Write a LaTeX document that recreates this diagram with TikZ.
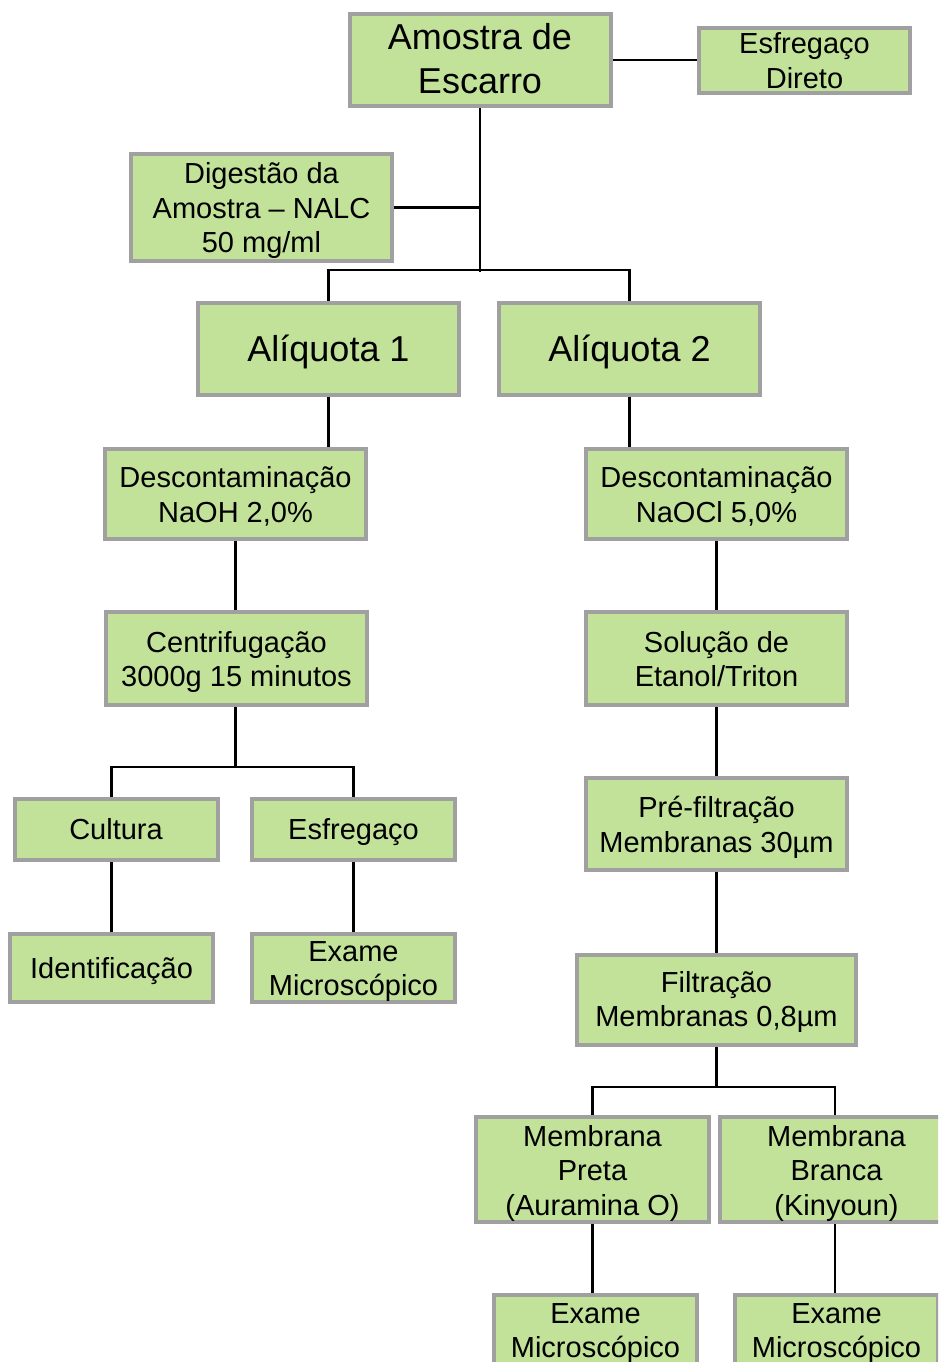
\documentclass[tikz,border=0pt]{standalone}
\usepackage{fontspec}
\setmainfont{Liberation Sans}
\definecolor{boxfill}{HTML}{C2E29A}
\definecolor{boxline}{HTML}{A0A0A0}
\pgfdeclarelayer{bg}
\pgfsetlayers{bg,main}
\begin{document}
\begin{tikzpicture}[x=1pt,y=-1pt,
  box/.style={draw=boxline, fill=boxfill, line width=4pt, inner sep=0pt, align=center,
    font=\fontsize{29}{34.5}\selectfont,
    execute at begin node={\rule{0pt}{0.905em}},
    execute at end node={\rule[-0.212em]{0pt}{0.212em}}},
  tx/.style={inner sep=0pt, align=center, yshift=-3.5pt, font=\fontsize{29}{34.5}\selectfont},
  txbig/.style={inner sep=0pt, align=center, yshift=1.5pt, font=\fontsize{36}{44}\selectfont},
  big/.style={font=\fontsize{36}{44}\selectfont},
  wh/.style 2 args={minimum width=#1pt, minimum height=#2pt},
  conn/.style={line width=2.5pt, draw=black}]
\useasboundingbox (0,0) rectangle (938,1362);
\clip (0,0) rectangle (938,1362);

\node[box,wh={261}{92},label={[txbig,name=amostraT]center:{Amostra de\\Escarro}}] (amostra) at (480,60) {};
\node[box,wh={211}{65},label={[tx,yshift=3.5pt,name=diretoT]center:{Esfregaço\\Direto}}] (direto) at (804.5,60.5) {};
\node[box,wh={261}{107},label={[tx,name=digestT]center:{Digestão da\\Amostra – NALC\\50 mg/ml}}] (digest) at (261.5,207.5) {};
\node[box,big,wh={261}{92}] (aliq1) at (328.5,349) {Alíquota 1};
\node[box,big,wh={261}{92}] (aliq2) at (629.5,349) {Alíquota 2};
\node[box,wh={261}{90},label={[tx,yshift=1pt,name=desc1T]center:{Descontaminação\\NaOH 2,0\%}}] (desc1) at (235.5,494) {};
\node[box,wh={261}{90},label={[tx,yshift=1pt,name=desc2T]center:{Descontaminação\\NaOCl 5,0\%}}] (desc2) at (716.5,494) {};
\node[box,wh={261}{93},label={[tx,name=centrT]center:{Centrifugação\\3000g 15 minutos}}] (centr) at (236.5,658.5) {};
\node[box,wh={261}{93},label={[tx,yshift=3pt,name=solT]center:{Solução de\\Etanol/Triton}}] (sol) at (716.5,658.5) {};
\node[box,wh={203}{61}] (cult) at (116,829.5) {Cultura};
\node[box,wh={203}{61}] (esfr) at (353.5,829.5) {Esfregaço};
\node[box,wh={203}{68}] (ident) at (111.5,968) {Identificação};
\node[box,wh={203}{68},label={[tx,name=exame1T]center:{Exame\\Microscópico}}] (exame1) at (353.5,968) {};
\node[box,wh={261}{92},label={[tx,name=prefT]center:{Pré-filtração\\Membranas 30µm}}] (pref) at (716.5,824) {};
\node[box,wh={279}{90},label={[tx,yshift=1.5pt,name=filtT]center:{Filtração\\Membranas 0,8µm}}] (filt) at (716.5,1000) {};
\node[box,wh={233}{105},label={[tx,name=mpretaT]center:{Membrana\\Preta\\(Auramina O)}}] (mpreta) at (592.5,1169.5) {};
\node[box,wh={233}{105},label={[tx,name=mbrancaT]center:{Membrana\\Branca\\(Kinyoun)}}] (mbranca) at (836.5,1169.5) {};
\node[box,wh={203}{70},label={[tx,name=exame2T]center:{Exame\\Microscópico}}] (exame2) at (595.5,1330) {};
\node[box,wh={203}{70},label={[tx,name=exame3T]center:{Exame\\Microscópico}}] (exame3) at (836.5,1330) {};

\coordinate (j1) at (480,272);
\coordinate (bar1) at (0,270);
\coordinate (bar2) at (0,767);
\coordinate (bar3) at (0,1087);
\coordinate (cx) at (111.5,0);
\coordinate (bx) at (835,0);

\begin{pgfonlayer}{bg}
\draw[conn] (amostra.east) -- (amostra.east -| direto.west);
\draw[conn] (amostra.south) -- (amostra.south |- j1);
\draw[conn] (digest.east) -- (digest.east -| amostra.south);
\draw[conn] (aliq1.north) -- (aliq1.north |- bar1) -- (aliq2.north |- bar1) -- (aliq2.north);
\draw[conn] (aliq1.south) -- (aliq1.south |- desc1.north);
\draw[conn] (aliq2.south) -- (aliq2.south |- desc2.north);
\draw[conn] (desc1.south) -- (desc1.south |- centr.north);
\draw[conn] (centr.south -| desc1.south) -- (bar2 -| desc1.south);
\draw[conn] (cult.north -| cx) -- (bar2 -| cx) -- (esfr.north |- bar2) -- (esfr.north);
\draw[conn] (cult.south -| cx) -- (ident.north -| cx);
\draw[conn] (esfr) -- (exame1);
\draw[conn] (desc2) -- (sol);
\draw[conn] (sol) -- (pref);
\draw[conn] (pref) -- (filt);
\draw[conn] (filt.south) -- (filt.south |- bar3);
\draw[conn] (mpreta.north) -- (mpreta.north |- bar3) -- (bar3 -| bx) -- (mbranca.north -| bx);
\draw[conn] (mpreta.south) -- (mpreta.south |- exame2.north);
\draw[conn] (mbranca.south -| bx) -- (exame3.north -| bx);
\end{pgfonlayer}
\end{tikzpicture}
\end{document}
